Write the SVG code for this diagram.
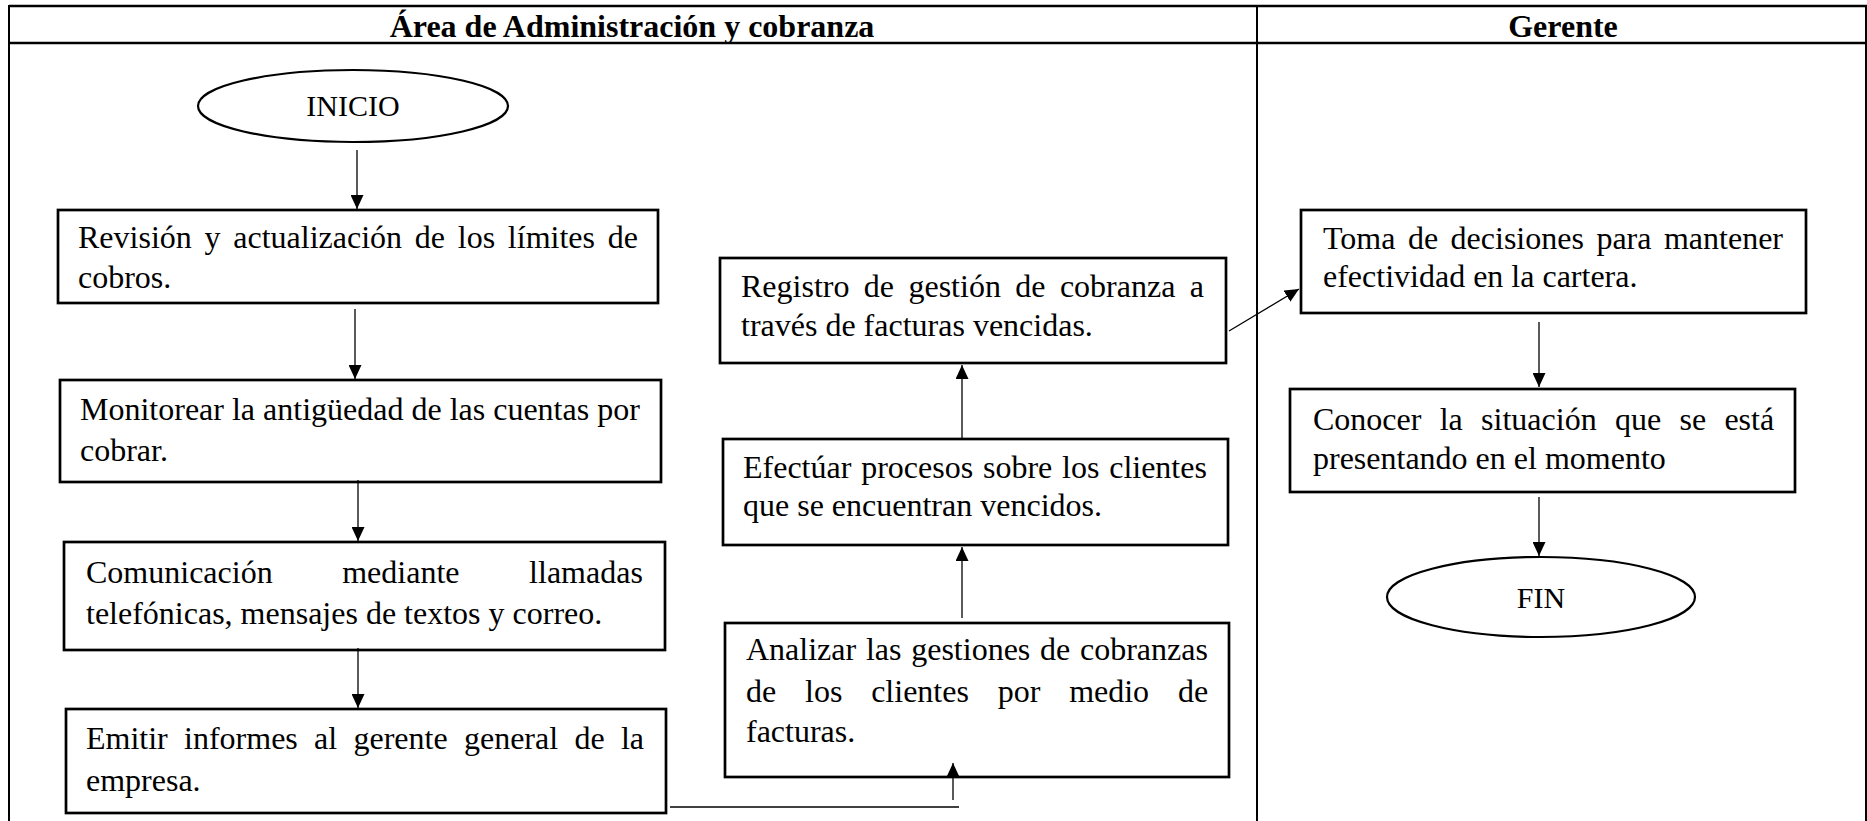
<svg xmlns="http://www.w3.org/2000/svg" width="1867" height="821" viewBox="0 0 1867 821">
<defs>
<marker id="ah" markerWidth="14" markerHeight="13" refX="14" refY="6.5" orient="auto" markerUnits="userSpaceOnUse"><path d="M0,0 L14,6.5 L0,13 z" fill="#000"/></marker>
<style>
.t{font-family:"Liberation Serif","Times New Roman",serif;font-size:32px;fill:#000}
.h{font-family:"Liberation Serif","Times New Roman",serif;font-size:32px;font-weight:bold;text-anchor:middle;fill:#000}
.e{font-family:"Liberation Serif","Times New Roman",serif;font-size:30px;text-anchor:middle;fill:#000}
.box{fill:#fff;stroke:#000;stroke-width:2.7}
.ov{fill:#fff;stroke:#000;stroke-width:2.2}
.c{fill:none;stroke:#000;stroke-width:1.3}
.a{marker-end:url(#ah)}
.tb{fill:none;stroke:#000;stroke-width:2}
</style>
</defs>
<rect width="1867" height="821" fill="#fff"/>
<g id="table">
<rect class="tb" x="9" y="6" width="1857" height="830"/>
<line x1="9" y1="6" x2="1867" y2="6" stroke="#000" stroke-width="2.5"/>
<line x1="9" y1="43" x2="1867" y2="43" stroke="#000" stroke-width="2.5"/>
<line x1="1257" y1="6" x2="1257" y2="821" stroke="#000" stroke-width="2"/>
<text class="h" x="632" y="37">Área de Administración y cobranza</text>
<text class="h" x="1563" y="37">Gerente</text>
</g>
<g id="inicio">
<ellipse class="ov" cx="353" cy="106" rx="155" ry="36"/>
<text class="e" x="353" y="116">INICIO</text>
</g>
<g id="revision">
<rect class="box" x="58" y="210" width="600" height="93"/>
<text class="t" x="78" y="248" word-spacing="4.75">Revisión y actualización de los límites de</text>
<text class="t" x="78" y="288">cobros.</text>
</g>
<g id="monitorear">
<rect class="box" x="60" y="380" width="601" height="102"/>
<text class="t" x="80" y="420">Monitorear la antigüedad de las cuentas por</text>
<text class="t" x="80" y="461">cobrar.</text>
</g>
<g id="comunicacion">
<rect class="box" x="64" y="542" width="601" height="108"/>
<text class="t" x="86" y="583" word-spacing="61.6">Comunicación mediante llamadas</text>
<text class="t" x="86" y="624">telefónicas, mensajes de textos y correo.</text>
</g>
<g id="emitir">
<rect class="box" x="66" y="709" width="600" height="104"/>
<text class="t" x="86" y="749" word-spacing="8.3">Emitir informes al gerente general de la</text>
<text class="t" x="86" y="791">empresa.</text>
</g>
<g id="analizar">
<rect class="box" x="725" y="623" width="504" height="154"/>
<text class="t" x="746" y="660" word-spacing="1.75">Analizar las gestiones de cobranzas</text>
<text class="t" x="746" y="702" word-spacing="20.8">de los clientes por medio de</text>
<text class="t" x="746" y="742">facturas.</text>
</g>
<g id="efectuar">
<rect class="box" x="723" y="439" width="505" height="106"/>
<text class="t" x="743" y="478" word-spacing="1.8">Efectúar procesos sobre los clientes</text>
<text class="t" x="743" y="516">que se encuentran vencidos.</text>
</g>
<g id="registro">
<rect class="box" x="720" y="258" width="506" height="105"/>
<text class="t" x="741" y="297" word-spacing="6.4">Registro de gestión de cobranza a</text>
<text class="t" x="741" y="336">través de facturas vencidas.</text>
</g>
<g id="toma">
<rect class="box" x="1301" y="210" width="505" height="103"/>
<text class="t" x="1323" y="249" word-spacing="4.5">Toma de decisiones para mantener</text>
<text class="t" x="1323" y="287">efectividad en la cartera.</text>
</g>
<g id="conocer">
<rect class="box" x="1290" y="389" width="505" height="103"/>
<text class="t" x="1313" y="430" word-spacing="10.3">Conocer la situación que se está</text>
<text class="t" x="1313" y="469">presentando en el momento</text>
</g>
<g id="fin">
<ellipse class="ov" cx="1541" cy="597" rx="154" ry="40"/>
<text class="e" x="1541" y="608">FIN</text>
</g>
<g id="connectors">
<line class="c a" x1="357" y1="150" x2="357" y2="209"/>
<line class="c a" x1="355" y1="309" x2="355" y2="379"/>
<line class="c a" x1="358" y1="480" x2="358" y2="541"/>
<line class="c a" x1="358" y1="648" x2="358" y2="708"/>
<line class="c" x1="670" y1="807" x2="959" y2="807"/>
<line class="c a" x1="953" y1="800" x2="953" y2="763"/>
<line class="c a" x1="962" y1="618" x2="962" y2="547"/>
<line class="c a" x1="962" y1="438" x2="962" y2="365"/>
<line class="c a" x1="1229" y1="331" x2="1299" y2="289"/>
<line class="c a" x1="1539" y1="322" x2="1539" y2="387"/>
<line class="c a" x1="1539" y1="497" x2="1539" y2="556"/>
</g>
</svg>
